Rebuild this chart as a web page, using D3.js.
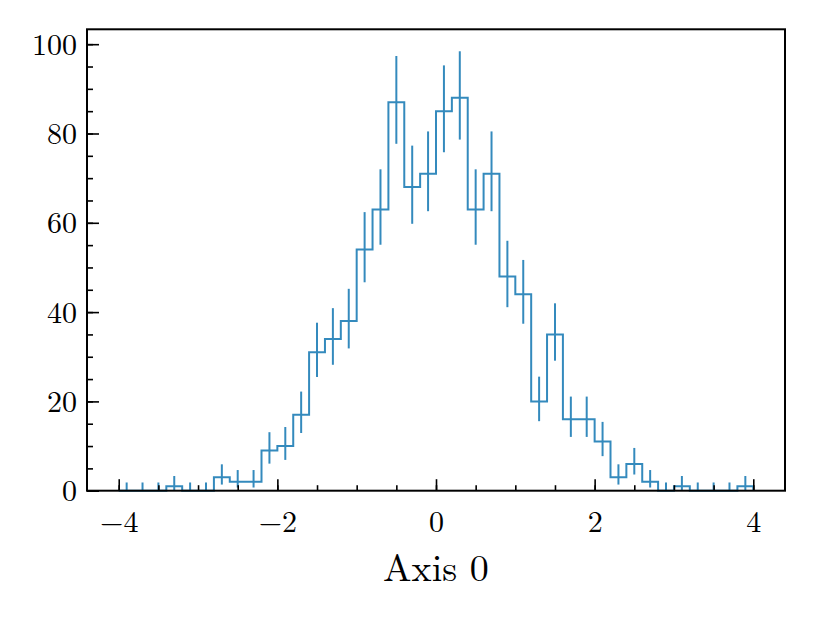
<!DOCTYPE html>
<html>
<head>
<meta charset="utf-8">
<script src="https://cdn.jsdelivr.net/npm/d3@7"></script>
<style>
  body { margin: 0; background: #fff; }
  svg { display: block; }
  text { font-family: "Latin Modern Roman", "CMU Serif", "Liberation Serif", serif; fill: #000; }
</style>
</head>
<body>
<div id="chart"></div>
<script>
// histogram: 40 bins of width 0.2 from -4 to 4
const binEdges = d3.range(41).map(i => -4 + i * 0.2);
const counts = [0, 0, 0, 1, 0, 0, 3, 2, 2, 9,
                10, 17, 31, 34, 38, 54, 63, 87, 68, 71,
                85, 88, 63, 71, 48, 44, 20, 35, 16, 16,
                11, 3, 6, 2, 0, 1, 0, 0, 0, 1];
const xTicks = [-4, -2, 0, 2, 4];
const yTicks = [0, 20, 40, 60, 80, 100];
const xLabel = "Axis 0";

const width = 814, height = 619;
const margin = { left: 87, right: 29, top: 29.3, bottom: 128.3 };
const color = "#348abd";

// poisson (garwood) interval, wilson-hilferty approx
function poissonLow(n) {
  if (n === 0) return 0;
  return n * Math.pow(1 - 1 / (9 * n) - 1 / (3 * Math.sqrt(n)), 3);
}
function poissonHigh(n) {
  if (n === 0) return 1.841;
  const m = n + 1;
  return m * Math.pow(1 - 1 / (9 * m) + 1 / (3 * Math.sqrt(m)), 3);
}

const bins = counts.map((c, i) => ({
  x0: binEdges[i], x1: binEdges[i + 1], xc: (binEdges[i] + binEdges[i + 1]) / 2,
  n: c, lo: poissonLow(c), hi: poissonHigh(c)
}));

const yMax = d3.max(bins, d => d.hi) * 1.05;

const x = d3.scaleLinear().domain([-4.4, 4.4]).range([margin.left, width - margin.right]);
const y = d3.scaleLinear().domain([0, yMax]).range([height - margin.bottom, margin.top]);

const svg = d3.select("#chart").append("svg")
  .attr("width", width)
  .attr("height", height);

// step outline
const pts = [[binEdges[0], 0]];
bins.forEach(b => { pts.push([b.x0, b.n]); pts.push([b.x1, b.n]); });
pts.push([binEdges[binEdges.length - 1], 0]);

svg.append("path")
  .attr("d", d3.line().x(d => x(d[0])).y(d => y(d[1]))(pts))
  .attr("fill", "none")
  .attr("stroke", color)
  .attr("stroke-width", 2)
  .attr("stroke-linejoin", "miter");

// error bars
svg.append("g")
  .selectAll("line")
  .data(bins)
  .join("line")
  .attr("x1", d => x(d.xc))
  .attr("x2", d => x(d.xc))
  .attr("y1", d => y(d.lo))
  .attr("y2", d => y(d.hi))
  .attr("stroke", color)
  .attr("stroke-width", 2);

// axes, ticks pointing inward
const fmt = d => d < 0 ? "\u2212" + Math.abs(d) : String(d);
const xb = height - margin.bottom;

const gxMinor = svg.append("g").attr("transform", `translate(0,${xb})`)
  .call(d3.axisBottom(x).tickValues(d3.range(-4, 4.01, 0.5)).tickSize(-5.5).tickFormat(""));
const gx = svg.append("g").attr("transform", `translate(0,${xb})`)
  .call(d3.axisBottom(x).tickValues(xTicks).tickSize(-11.5).tickPadding(20).tickFormat(fmt));

const gyMinor = svg.append("g").attr("transform", `translate(${margin.left},0)`)
  .call(d3.axisLeft(y).tickValues(d3.range(0, 101, 5)).tickSize(-6).tickFormat(""));
const gy = svg.append("g").attr("transform", `translate(${margin.left},0)`)
  .call(d3.axisLeft(y).tickValues(yTicks).tickSize(-12).tickPadding(10).tickFormat(fmt));

[gx, gy, gxMinor, gyMinor].forEach(g => {
  g.select(".domain").remove();
  g.selectAll(".tick line").attr("stroke", "#000").attr("stroke-width", 1.6);
  g.selectAll("text").style("font-size", "30px").attr("fill", "#000");
});
gy.selectAll("text").attr("dy", "0.34em");

// frame
svg.append("rect")
  .attr("x", margin.left)
  .attr("y", margin.top)
  .attr("width", width - margin.left - margin.right)
  .attr("height", height - margin.top - margin.bottom)
  .attr("fill", "none")
  .attr("stroke", "#000")
  .attr("stroke-width", 2);

svg.append("text")
  .attr("x", (margin.left + width - margin.right) / 2)
  .attr("y", 581)
  .attr("text-anchor", "middle")
  .style("font-size", "38px")
  .text(xLabel);
</script>
</body>
</html>
